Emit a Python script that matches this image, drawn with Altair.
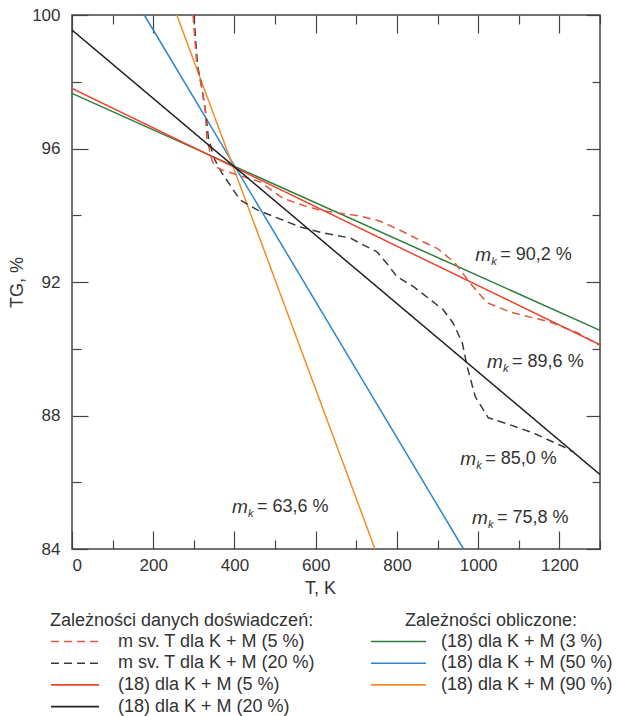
import altair as alt
import pandas as pd

FONT = "Liberation Sans"
TXT = "#333333"
AX = "#444444"

# ---------------- data ----------------
# experimental curve, K + M (5 %)
exp5_T = [298, 307, 319, 328, 332, 344, 352, 369, 410, 463, 520, 569, 611, 660,
          709, 759, 808, 857, 900, 943, 980, 1022, 1079, 1177, 1244, 1300]
exp5_TG = [100, 98.55, 97.85, 97.16, 96.3, 95.66, 95.46, 95.36, 95.2, 95.0, 94.5,
           94.3, 94.15, 94.06, 93.98, 93.82, 93.55, 93.25, 93.0, 92.57, 91.97,
           91.38, 91.1, 90.8, 90.48, 90.1]
# experimental curve, K + M (20 %)
exp20_T = [300, 309, 320, 329, 336, 350, 369, 397, 414, 456, 505, 562, 618, 685,
           709, 750, 775, 800, 841, 914, 938, 961, 973, 993, 1025, 1079, 1135,
           1209, 1235]
exp20_TG = [100, 98.5, 97.8, 97.1, 96.3, 95.7, 95.27, 94.76, 94.46, 94.16, 93.92,
            93.65, 93.47, 93.32, 93.16, 92.91, 92.56, 92.16, 91.86, 91.17, 90.78,
            90.18, 89.46, 88.56, 87.93, 87.72, 87.48, 87.07, 86.9]
# straight lines from equation (18)
line5_T, line5_TG = [0, 1300], [97.8, 90.12]
line20_T, line20_TG = [0, 1300], [99.55, 86.23]
line3_T, line3_TG = [0, 1300], [97.65, 90.55]
line50_T, line50_TG = [178, 964], [100, 84]
line90_T, line90_TG = [258, 746], [100, 84]

exp_names = ["m sv. T dla K + M (5 %)", "m sv. T dla K + M (20 %)",
             "(18) dla K + M (5 %)", "(18) dla K + M (20 %)"]
exp_colors = ["#e2583e", "#3a3a3a", "#e8452c", "#222222"]
exp_dash = [[8, 5], [8, 5], [1, 0], [1, 0]]

calc_names = ["(18) dla K + M (3 %)", "(18) dla K + M (50 %)", "(18) dla K + M (90 %)"]
calc_colors = ["#2e7d3c", "#2a86d2", "#f08c28"]

# annotations  m_k = ...
ann_T = [993, 1022, 956, 394, 985]
ann_TG = [92.81, 89.61, 86.70, 85.27, 84.94]
ann_val = ["= 90,2 %", "= 89,6 %", "= 85,0 %", "= 63,6 %", "= 75,8 %"]

x_major = [0, 200, 400, 600, 800, 1000, 1200]
x_minor = [100, 300, 500, 700, 900, 1100, 1300]
y_major = [84, 88, 92, 96, 100]
y_minor = [86, 90, 94, 98]


def frame(name, Ts, TGs):
    return pd.DataFrame({"series": name, "T": Ts, "TG": TGs, "i": list(range(len(Ts)))})


exp_df = pd.concat([
    frame(exp_names[1], exp20_T, exp20_TG),
    frame(exp_names[0], exp5_T, exp5_TG),
    frame(exp_names[2], line5_T, line5_TG),
    frame(exp_names[3], line20_T, line20_TG),
], ignore_index=True)

calc_df = pd.concat([
    frame(calc_names[0], line3_T, line3_TG),
    frame(calc_names[1], line50_T, line50_TG),
    frame(calc_names[2], line90_T, line90_TG),
], ignore_index=True)

ann_df = pd.DataFrame({"T": ann_T, "TG": ann_TG, "val": ann_val,
                       "m": ["m"] * len(ann_T), "k": ["k"] * len(ann_T)})

xs = alt.Scale(domain=[0, 1300], nice=False, zero=False)
ys = alt.Scale(domain=[84, 100], nice=False, zero=False)


def X(axis):
    return alt.X("T:Q", scale=xs, axis=axis)


def Y(axis):
    return alt.Y("TG:Q", scale=ys, axis=axis)


def tick_axis(orient, values, size):
    return alt.Axis(orient=orient, values=values, tickSize=size, offset=-size,
                    labels=False, domain=False, grid=False, title=None,
                    tickColor=AX, tickWidth=1.2)


legend_common = dict(
    orient="none", direction="vertical", symbolType="stroke",
    symbolStrokeWidth=1.6, labelFontSize=18, titleFontSize=18,
    titleFontWeight="normal", labelFont=FONT, titleFont=FONT,
    labelColor=TXT, titleColor=TXT, labelLimit=400, titleLimit=400,
    padding=0, clipHeight=19, rowPadding=2.7, titlePadding=2,
)

exp_legend = alt.Legend(title="Zależności danych doświadczeń:", legendX=-22, legendY=597,
                        symbolSize=2304, labelOffset=18, **legend_common)
calc_legend = alt.Legend(title="Zależności obliczone:", legendX=298, legendY=597,
                         symbolSize=3025, labelOffset=14, titleAnchor="middle",
                         **legend_common)

exp_layer = alt.Chart(exp_df).mark_line(strokeWidth=1.5).encode(
    x=X(alt.Axis(orient="bottom", values=x_major, format="d", tickSize=18, offset=-18,
                 domain=False, grid=False, labelPadding=8, labelFontSize=17,
                 labelFont=FONT, labelColor=TXT, tickColor=AX, tickWidth=1.2,
                 title="T, K", titleFont=FONT, titleFontSize=18, titleX=248,
                 titleFontWeight="normal", titleColor=TXT, titlePadding=6)),
    y=Y(alt.Axis(orient="left", values=y_major, format="d", tickSize=16, offset=-16,
                 domain=False, grid=False, labelPadding=12, labelFontSize=17,
                 labelFont=FONT, labelColor=TXT, tickColor=AX, tickWidth=1.2,
                 title="TG, %", titleFont=FONT, titleFontSize=18,
                 titleFontWeight="normal", titleColor=TXT, titlePadding=5)),
    color=alt.Color("series:N", scale=alt.Scale(domain=exp_names, range=exp_colors),
                    sort=exp_names, legend=exp_legend),
    strokeDash=alt.StrokeDash("series:N", scale=alt.Scale(domain=exp_names, range=exp_dash),
                              sort=exp_names, legend=exp_legend),
    detail="series:N",
    order="i:Q",
)

calc_layer = alt.Chart(calc_df).mark_line(strokeWidth=1.5).encode(
    x=X(None),
    y=Y(None),
    color=alt.Color("series:N", scale=alt.Scale(domain=calc_names, range=calc_colors),
                    sort=calc_names, legend=calc_legend),
    detail="series:N",
    order="i:Q",
)

base_ticks = alt.Chart(calc_df).mark_point(opacity=0, size=1)
ticks = [
    base_ticks.encode(x=X(tick_axis("bottom", x_minor, 9)), y=Y(None)),
    base_ticks.encode(x=X(tick_axis("top", x_major, 18)), y=Y(None)),
    base_ticks.encode(x=X(tick_axis("top", x_minor, 9)), y=Y(None)),
    base_ticks.encode(x=X(None), y=Y(tick_axis("left", y_minor, 9))),
    base_ticks.encode(x=X(None), y=Y(tick_axis("right", y_major, 14))),
    base_ticks.encode(x=X(None), y=Y(tick_axis("right", y_minor, 8))),
]

ann_base = alt.Chart(ann_df).encode(x=X(None), y=Y(None))
ann_m = ann_base.mark_text(align="left", baseline="middle", font=FONT, fontSize=19,
                           fontStyle="italic", color=TXT).encode(text="m:N")
ann_k = ann_base.mark_text(align="left", baseline="middle", font=FONT, fontSize=11,
                           fontStyle="italic", color=TXT, dx=16, dy=7).encode(text="k:N")
ann_v = ann_base.mark_text(align="left", baseline="middle", font=FONT, fontSize=18,
                           color=TXT, dx=25).encode(text="val:N")

chart = alt.layer(
    calc_layer, exp_layer, *ticks, ann_m, ann_k, ann_v
).resolve_scale(
    color="independent", strokeDash="independent"
).resolve_axis(
    x="independent", y="independent"
).properties(
    width=528, height=534,
    padding={"left": 72, "top": 15, "right": 17, "bottom": 167},
    autosize=alt.AutoSizeParams(type="none"),
).configure_view(
    stroke=AX, strokeWidth=1.5
).configure_axis(grid=False)

chart.save("out.html", embed_options={"renderer": "svg", "actions": False})
